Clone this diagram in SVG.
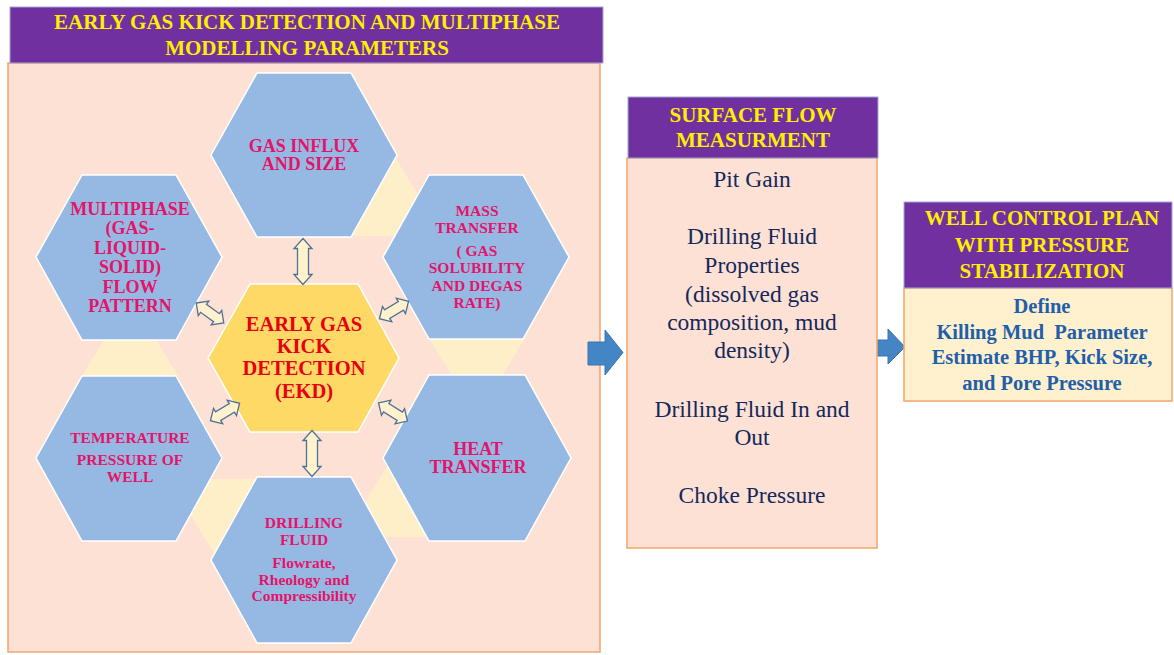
<svg xmlns="http://www.w3.org/2000/svg" width="1174" height="655" viewBox="0 0 1174 655" font-family="Liberation Serif, Times New Roman, DejaVu Serif, serif">
<defs>
<style>
.title{fill:#7030A0;stroke:#9FA8D0;stroke-width:1}
.tt{font-weight:bold;font-size:21px;fill:#FFEE00;text-anchor:middle}
.panel{fill:#FDE1D5;stroke:#F4A46A;stroke-width:1.5}
.hex{fill:#95B9E2;stroke:#FFFFFF;stroke-width:1.5}
.hexc{fill:#FFD966;stroke:#FFFFFF;stroke-width:1.5}
.tri{fill:#FFEFC9}
.ht{font-weight:bold;fill:#E2156B;text-anchor:middle}
.ek{font-weight:bold;font-size:20.5px;fill:#E60012;text-anchor:middle}
.dbl{fill:#FFF2CC;stroke:#4E7196;stroke-width:1.3;stroke-linejoin:miter}
.blue{fill:#4485C6;stroke:#3A74AE;stroke-width:1}
.st{font-size:23.5px;fill:#14285A;text-anchor:middle}
.wt{font-weight:bold;font-size:20.5px;fill:#1F5FAA;text-anchor:middle}
</style>
<path id="dv" d="M0,-23 L9,-13 L5.5,-13 L5.5,13 L9,13 L0,23 L-9,13 L-5.5,13 L-5.5,-13 L-9,-13 Z"/>
<path id="dh" d="M-17,0 L-8,-9 L-8,-5 L8,-5 L8,-9 L17,0 L8,9 L8,5 L-8,5 L-8,9 Z"/>
</defs>
<rect width="1174" height="655" fill="#FFFFFF"/>

<g id="main-panel">
<rect class="panel" x="8" y="63" width="592" height="589"/>
<rect class="title" x="10" y="7" width="593" height="56"/>
<text class="tt" x="307" y="29">EARLY GAS KICK DETECTION AND MULTIPHASE</text>
<text class="tt" x="307" y="55">MODELLING PARAMETERS</text>
</g>

<g id="accents">
<polygon class="tri" points="395,157 443,236 347,236"/>
<polygon class="tri" points="429,338 525,338 477,417"/>
<polygon class="tri" points="392,458 440,537 344,537"/>
<polygon class="tri" points="169,479 265,479 217,558"/>
<polygon class="tri" points="130,297 178,376 82,376"/>
</g>

<g id="gas-influx">
<polygon class="hex" points="211,155 257,73 351,73 397,155 351,237 257,237"/>
<text class="ht" font-size="18" x="304" y="152">GAS INFLUX</text>
<text class="ht" font-size="18" x="304" y="170">AND SIZE</text>
</g>

<g id="mass-transfer">
<polygon class="hex" points="383,257 429,175 523,175 569,257 523,339 429,339"/>
<text class="ht" font-size="15.5" x="477" y="216">MASS</text>
<text class="ht" font-size="15.5" x="477" y="233">TRANSFER</text>
<text class="ht" font-size="15.5" x="477" y="256">( GAS</text>
<text class="ht" font-size="15.5" x="477" y="273">SOLUBILITY</text>
<text class="ht" font-size="15.5" x="477" y="291">AND DEGAS</text>
<text class="ht" font-size="15.5" x="477" y="308">RATE)</text>
</g>

<g id="multiphase">
<polygon class="hex" points="36,257 82,175 176,175 222,257 176,340 82,340"/>
<text class="ht" font-size="18" x="130" y="215">MULTIPHASE</text>
<text class="ht" font-size="18" x="130" y="234">(GAS-</text>
<text class="ht" font-size="18" x="130" y="254">LIQUID-</text>
<text class="ht" font-size="18" x="130" y="273">SOLID)</text>
<text class="ht" font-size="18" x="130" y="293">FLOW</text>
<text class="ht" font-size="18" x="130" y="312">PATTERN</text>
</g>

<g id="temperature">
<polygon class="hex" points="36,458 82,376 176,376 222,458 176,541 82,541"/>
<text class="ht" font-size="15.5" x="130" y="443">TEMPERATURE</text>
<text class="ht" font-size="15.5" x="130" y="465">PRESSURE OF</text>
<text class="ht" font-size="15.5" x="130" y="482">WELL</text>
</g>

<g id="heat-transfer">
<polygon class="hex" points="383,458 429,375 525,375 571,458 525,541 429,541"/>
<text class="ht" font-size="18" x="478" y="455">HEAT</text>
<text class="ht" font-size="18" x="478" y="473">TRANSFER</text>
</g>

<g id="drilling-fluid">
<polygon class="hex" points="211,560 257,477 351,477 397,560 351,643 257,643"/>
<text class="ht" font-size="15.5" x="304" y="528">DRILLING</text>
<text class="ht" font-size="15.5" x="304" y="545">FLUID</text>
<text class="ht" font-size="15.5" x="304" y="568">Flowrate,</text>
<text class="ht" font-size="15.5" x="304" y="585">Rheology and</text>
<text class="ht" font-size="15.5" x="304" y="601">Compressibility</text>
</g>

<g id="ekd">
<polygon class="hexc" points="208,358 250,284 358,284 399,358 358,432 250,432"/>
<text class="ek" x="304" y="331">EARLY GAS</text>
<text class="ek" x="304" y="353">KICK</text>
<text class="ek" x="304" y="375">DETECTION</text>
<text class="ek" x="304" y="398">(EKD)</text>
</g>

<g id="connectors">
<use href="#dv" class="dbl" transform="translate(303,261.5)"/>
<use href="#dv" class="dbl" transform="translate(312,453.5)"/>
<use href="#dh" class="dbl" transform="translate(210,313) rotate(36)"/>
<use href="#dh" class="dbl" transform="translate(394,310) rotate(-31)"/>
<use href="#dh" class="dbl" transform="translate(225,412) rotate(-31)"/>
<use href="#dh" class="dbl" transform="translate(393,412) rotate(32)"/>
<polygon class="blue" points="588,342 605,342 605,330 623,352.5 605,375 605,365 588,365"/>
<polygon class="blue" points="867,340 888,340 888,329 905,347 888,364 888,356 867,356"/>
</g>

<g id="surface-flow">
<rect class="panel" x="627" y="158" width="250" height="390"/>
<rect class="title" x="628" y="97" width="250" height="61"/>
<text class="tt" x="753" y="122">SURFACE FLOW</text>
<text class="tt" x="753" y="147">MEASURMENT</text>
<text class="st" x="752" y="187">Pit Gain</text>
<text class="st" x="752" y="244">Drilling Fluid</text>
<text class="st" x="752" y="273">Properties</text>
<text class="st" x="752" y="302">(dissolved gas</text>
<text class="st" x="752" y="330">composition, mud</text>
<text class="st" x="752" y="358">density)</text>
<text class="st" x="752" y="417">Drilling Fluid In and</text>
<text class="st" x="752" y="445">Out</text>
<text class="st" x="752" y="503">Choke Pressure</text>
</g>

<g id="well-control">
<rect x="904" y="288" width="268" height="113" fill="#FFF0CE" stroke="#F4A46A" stroke-width="1.5"/>
<rect class="title" x="904" y="202" width="268" height="86"/>
<text class="tt" x="1042" y="225">WELL CONTROL PLAN</text>
<text class="tt" x="1042" y="252">WITH PRESSURE</text>
<text class="tt" x="1042" y="278">STABILIZATION</text>
<text class="wt" x="1042" y="313">Define</text>
<text class="wt" x="1042" y="339" xml:space="preserve">Killing Mud  Parameter</text>
<text class="wt" x="1042" y="364">Estimate BHP, Kick Size,</text>
<text class="wt" x="1042" y="390">and Pore Pressure</text>
</g>
</svg>
